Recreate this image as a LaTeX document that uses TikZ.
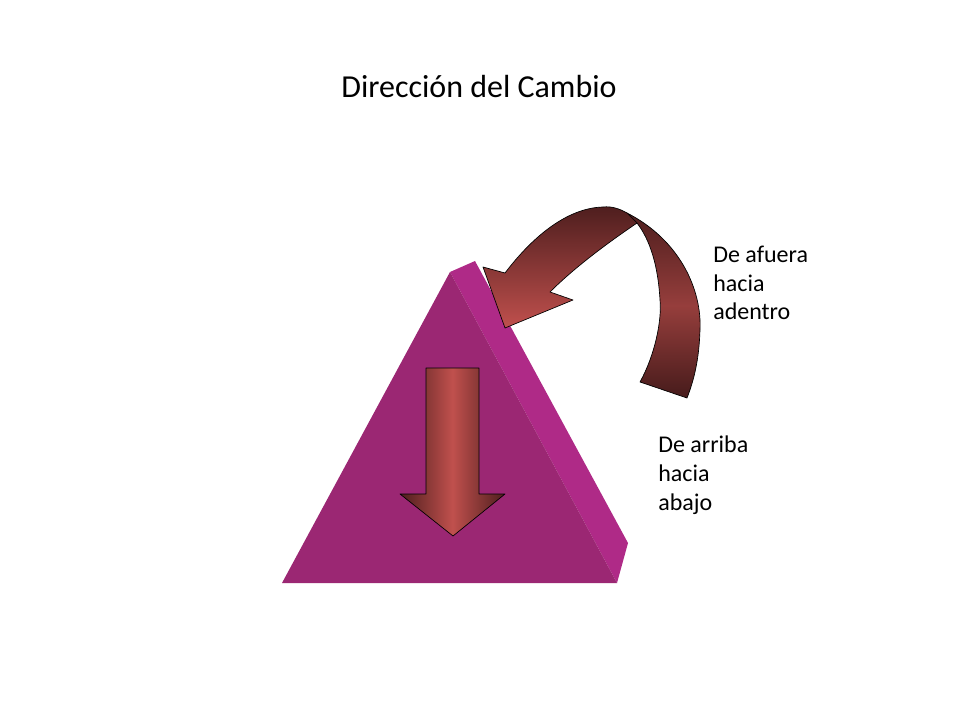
\documentclass[tikz,border=0pt]{standalone}
\usepackage{fontspec}
\setmainfont{Carlito}
\definecolor{caraFrente}{RGB}{155,39,115}
\definecolor{caraLado}{RGB}{175,42,135}
\definecolor{rojoClaro}{RGB}{192,80,77}
\definecolor{rojoOscuro}{RGB}{78,30,30}
\definecolor{rojoMedio}{RGB}{150,62,60}
\tikzset{
	flecha/.style={draw=black, line width=0.5pt, line join=round},
	etiqueta/.style={anchor=base west, inner sep=0pt, align=left, font=\fontsize{18}{21.4}\selectfont},
}

\begin{document}
\begin{tikzpicture}[x=0.75pt, y=-0.75pt]
			%%%%% START %%%%%
			\useasboundingbox (0, 0) rectangle (960, 720);
			
			\node[anchor=base, inner sep=0pt, font=\fontsize{24}{28}\selectfont] (titulo) at (479, 98) {Dirección del Cambio};
			
			% piramide
			\fill[caraLado] (450, 272) -- (475, 261) -- (628, 543) -- (617, 583) -- cycle;
			\fill[caraFrente] (450, 272) -- (282, 583) -- (617, 583) -- cycle;
			
			% flecha hacia abajo
			\draw[flecha, left color=rojoOscuro, right color=rojoOscuro, middle color=rojoClaro] (426, 368) -- (479, 368) -- (479, 494) -- (505, 494) -- (453, 536) -- (400, 494) -- (426, 494) -- cycle;
			
			% flecha curva, parte de atras
			\draw[flecha, top color=rojoOscuro, bottom color=rojoOscuro!90!black, middle color=rojoMedio] (627, 213) .. controls (680, 240) and (702, 290) .. (700, 330) .. controls (699, 360) and (694, 380) .. (687, 398) -- (640, 382) .. controls (655, 355) and (662, 320) .. (660, 300) .. controls (658, 265) and (650, 240) .. (637, 223) -- cycle;
			
			% flecha curva, parte de adelante
			\draw[flecha, top color=rojoOscuro, bottom color=rojoClaro] (505, 328) -- (483, 267) -- (505, 273) .. controls (530, 240) and (565, 208) .. (603, 207) .. controls (612, 206) and (620, 209) .. (627, 213) -- (637, 223) .. controls (615, 238) and (578, 264) .. (550, 292) -- (573, 300) -- cycle;
			
			% la base de un nodo de varias lineas es la ultima linea
			\node[etiqueta] (afuera) at (713, 320) {De afuera\\hacia\\adentro};
			\node[etiqueta] (arriba) at (658, 510) {De arriba\\hacia\\abajo};
			
			%%%%% END %%%%%
		\end{tikzpicture}
\end{document}
